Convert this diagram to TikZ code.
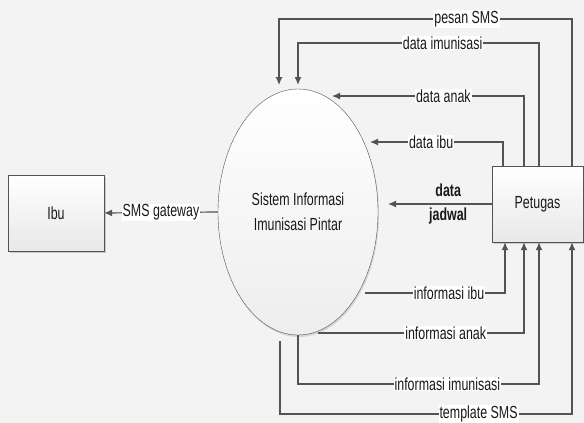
\documentclass[tikz,border=0pt]{standalone}
\usepackage{fontspec}
\setmainfont{Liberation Sans}[FakeStretch=0.71]
\usetikzlibrary{positioning,arrows.meta,shapes.geometric,shadows}

\definecolor{linegray}{HTML}{535353}
\definecolor{bggray}{HTML}{F3F3F3}

\begin{document}
\begin{tikzpicture}[x=1pt,y=-1pt,
	every node/.style={font=\fontsize{17.5}{25}\selectfont,text=black!90},
	entity/.style={rectangle,draw=linegray,top color=white,bottom color=black!9,
		minimum width=96pt,minimum height=76pt,
		drop shadow={opacity=0.35,shadow xshift=2pt,shadow yshift=-2pt}},
	proc/.style={ellipse,draw=linegray,top color=white,bottom color=black!7,
		minimum width=160pt,minimum height=246pt,align=center,
		drop shadow={opacity=0.25,shadow xshift=1pt,shadow yshift=-2pt}},
	flow/.style={draw=linegray,line width=1.2pt,-{Latex[length=8pt,width=7pt]}},
	lbl/.style={fill=white,inner sep=1pt}]

	\fill[bggray] (0,0) rectangle (584,423);
	\useasboundingbox (0,0) rectangle (584,423);

	%entities and process
	\node[entity] (ibu) at (56,213) {Ibu};
	\node[proc] (sistem) at (298,212) {Sistem Informasi\\Imunisasi Pintar};
	\node[entity,minimum width=91pt] (petugas) at (537.5,204) {Petugas};

	%arrow ends and bends near the process
	\coordinate (smsin) at (279,85);
	\coordinate (imuin) at (298,85);
	\coordinate (anakin) at (332,96);
	\coordinate (ibuin) at (370,142);
	\coordinate (jadwalin) at (388,204);
	\coordinate (infibu) at (365,293);
	\coordinate (infanak) at (318,333);
	\coordinate (infimu) at (298,384);
	\coordinate (tplout) at (280,341);
	\coordinate (tplbend) at (280,414);

	%flows into the system
	\draw[flow] ([xshift=34.5pt]petugas.north) |- node[lbl,pos=0.68] {pesan SMS} (smsin |- 0,19) -- (smsin);
	\draw[flow] ([xshift=1.5pt]petugas.north) |- node[lbl,pos=0.70] {data imunisasi} (imuin |- 0,43) -- (imuin);
	\draw[flow] ([xshift=-13.5pt]petugas.north) |- node[lbl,pos=0.71] {data anak} (anakin);
	\draw[flow] ([xshift=-34.5pt]petugas.north) |- node[lbl,pos=0.77] {data ibu} (ibuin);
	\draw[flow] (petugas.west) -- node[pos=0.42,align=center,font=\fontsize{17.5}{24}\selectfont\bfseries] {data\\jadwal} (jadwalin);

	%flow to Ibu
	\draw[flow] (sistem.west) -- node[lbl,pos=0.5] {SMS gateway} (ibu.east);

	%flows back to Petugas
	\draw[flow] (infibu) -| node[lbl,pos=0.30] {informasi ibu} ([xshift=-32.5pt]petugas.south);
	\draw[flow] (infanak) -| node[lbl,pos=0.31] {informasi anak} ([xshift=-13.5pt]petugas.south);
	\draw[flow] (sistem.south) -- (infimu) -| node[lbl,pos=0.31] {informasi imunisasi} ([xshift=1.5pt]petugas.south);
	\draw[flow] (tplout) -- (tplbend) -| node[lbl,pos=0.34] {template SMS} ([xshift=34.5pt]petugas.south);
\end{tikzpicture}
\end{document}
